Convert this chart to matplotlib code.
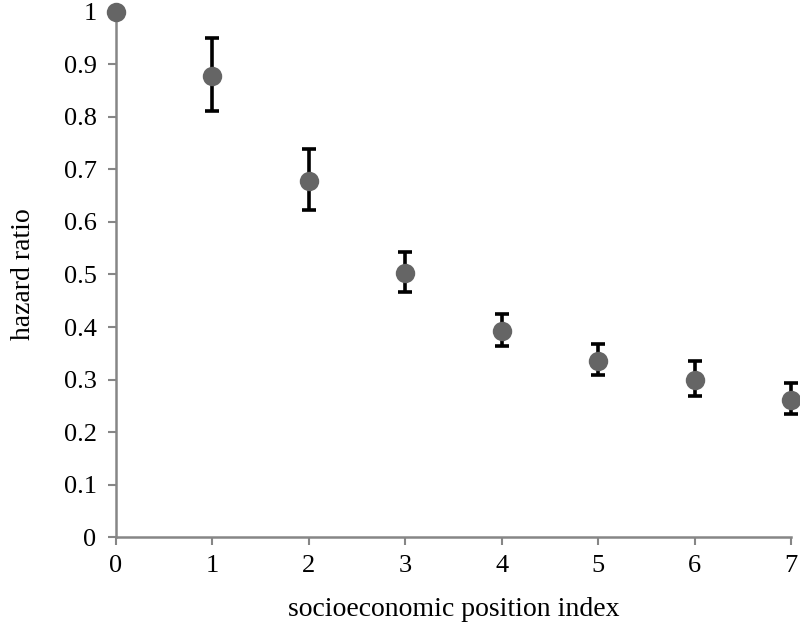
import matplotlib.pyplot as plt

# socioeconomic position index vs hazard ratio
spi = [0, 1, 2, 3, 4, 5, 6, 7]
hazard = [1.0, 0.878, 0.678, 0.503, 0.392, 0.335, 0.299, 0.261]
ci_low = [1.0, 0.811, 0.623, 0.467, 0.364, 0.309, 0.269, 0.234]
ci_high = [1.0, 0.950, 0.739, 0.543, 0.425, 0.368, 0.335, 0.293]

plt.rcParams['font.family'] = ['Liberation Serif', 'DejaVu Serif']

fig = plt.figure(figsize=(8, 6.24), dpi=100)
ax = fig.add_axes([0.145, 0.1394, 0.844, 0.8414])

err_lo = [h - l for h, l in zip(hazard, ci_low)]
err_hi = [u - h for h, u in zip(hazard, ci_high)]

# error bars only where there is an interval (reference point has none)
ax.errorbar(spi[1:], hazard[1:], yerr=[err_lo[1:], err_hi[1:]], fmt='none',
            ecolor='black', elinewidth=2.6, capsize=5, capthick=2.6, zorder=2,
            clip_on=False)
ax.plot(spi, hazard, 'o', color='#656565', markersize=14, markeredgewidth=0,
        zorder=3, clip_on=False)

ax.set_xlim(0, 7)
ax.set_ylim(0, 1)
ax.set_xticks(range(0, 8))
ax.set_yticks([i / 10 for i in range(11)])
ax.set_yticklabels(['0', '0.1', '0.2', '0.3', '0.4', '0.5', '0.6', '0.7', '0.8', '0.9', '1'])

for s in ['top', 'right']:
    ax.spines[s].set_visible(False)
for s in ['left', 'bottom']:
    ax.spines[s].set_color('#868686')
    ax.spines[s].set_linewidth(1.8)
ax.tick_params(colors='#868686', width=1.5, length=6, labelcolor='black',
               labelsize=19)
ax.tick_params(axis='y', pad=8)
ax.tick_params(axis='x', pad=7)

ax.set_xlabel('socioeconomic position index', fontsize=20, labelpad=14)
ax.set_ylabel('hazard ratio', fontsize=20, labelpad=20)

fig.savefig('out.png', dpi=100)
